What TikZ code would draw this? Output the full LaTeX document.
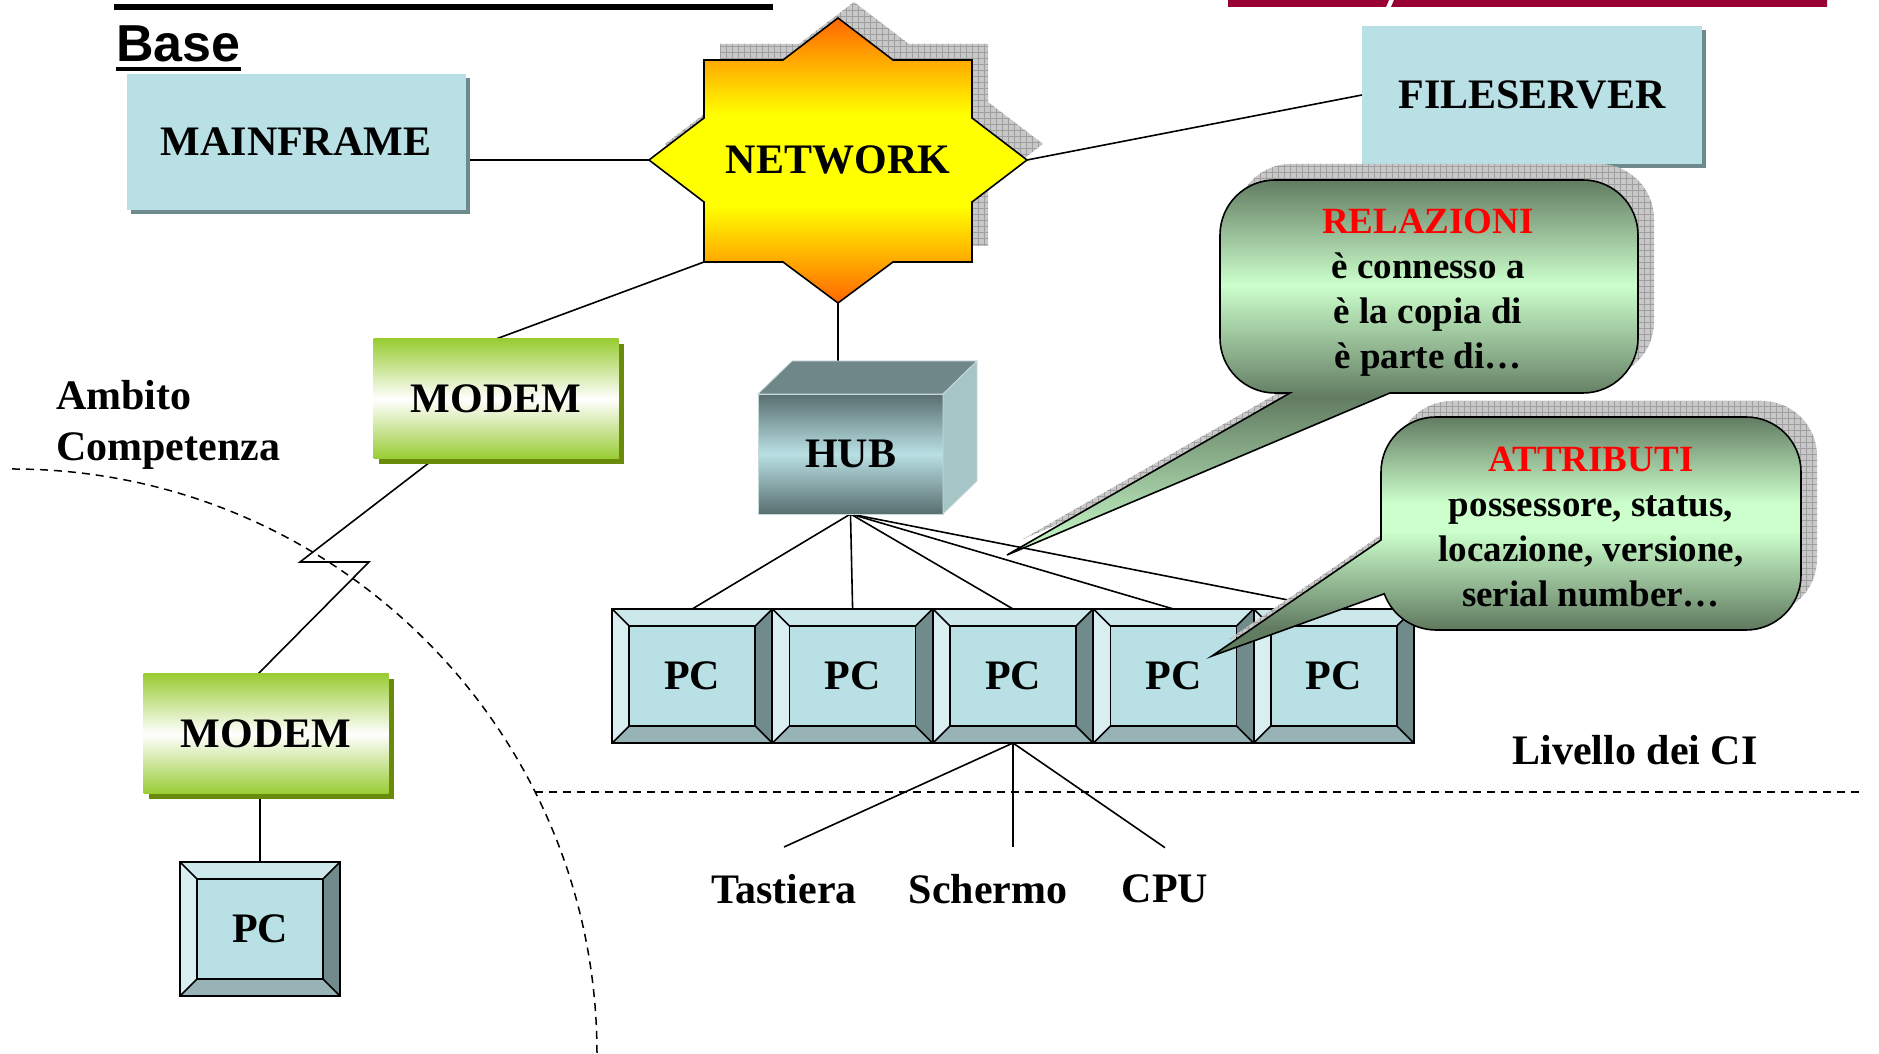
\documentclass[tikz,border=0pt]{standalone}
\usepackage{fontspec}
\setmainfont{Liberation Serif}
\newfontfamily\sansbold{Liberation Sans}
\usepackage{xcolor}
\usepackage{tikz}
\usetikzlibrary{backgrounds,shadows,patterns.meta}

\definecolor{boxblue}{HTML}{B9E0E4}
\definecolor{boxshade}{HTML}{6F8A8C}
\definecolor{pctop}{HTML}{CCE8EB}
\definecolor{pcleft}{HTML}{D8EEF0}
\definecolor{pcright}{HTML}{718B8D}
\definecolor{pcbottom}{HTML}{97B3B6}
\definecolor{hubdark}{HTML}{586E6F}
\definecolor{hubtop}{HTML}{6F8788}
\definecolor{hubside}{HTML}{A6C5C7}
\definecolor{hubedge}{HTML}{C9D9DA}
\definecolor{modemgreen}{HTML}{99CC33}
\definecolor{modemshade}{HTML}{6A8A0C}
\definecolor{netorange}{HTML}{FF6600}
\definecolor{netyellow}{HTML}{FFFF00}
\definecolor{bubdark}{HTML}{627C62}
\definecolor{bublight}{HTML}{CCFFCC}
\definecolor{shadowgray}{HTML}{C8C8C8}
\definecolor{hdrred}{HTML}{990033}
\definecolor{notered}{HTML}{FF0000}

\newcommand{\labelfont}{\fontsize{42}{51}\selectfont\bfseries}
\newcommand{\notefont}{\fontsize{37}{45}\selectfont\bfseries}
\newcommand{\basetitlefont}{\sansbold\fontsize{52}{60}\selectfont\bfseries}

\pgfdeclareverticalshading{netshade}{100bp}{color(0bp)=(netorange); color(25bp)=(netorange); color(42bp)=(netyellow); color(58bp)=(netyellow); color(75bp)=(netorange); color(100bp)=(netorange)}
\pgfdeclareverticalshading{relshade}{100bp}{color(0bp)=(bublight); color(25bp)=(bublight); color(46bp)=(bubdark); color(61bp)=(bublight); color(75bp)=(bubdark); color(100bp)=(bubdark)}
\pgfdeclareverticalshading{attshade}{100bp}{color(0bp)=(bubdark); color(25bp)=(bubdark); color(31bp)=(bubdark); color(51bp)=(bublight); color(57bp)=(bublight); color(75bp)=(bubdark); color(100bp)=(bubdark)}

% outlines of the star and the two callouts
\newcommand{\netstar}{(838,1036) -- (893,994) -- (972,994) -- (972,936) -- (1027,894) -- (972,852) -- (972,792) -- (893,792) -- (838,751) -- (783,792) -- (704,792) -- (704,852) -- (649,894) -- (704,936) -- (704,994) -- (783,994) -- cycle}
\newcommand{\relpath}{(1290,661) -- (1007,499) -- (1390,661) -- (1583,661) arc[start angle=-90, end angle=0, radius=55] -- (1638,819) arc[start angle=0, end angle=90, radius=55] -- (1275,874) arc[start angle=90, end angle=180, radius=55] -- (1220,716) arc[start angle=180, end angle=270, radius=55] -- cycle}
\newcommand{\attpath}{(1381,514) -- (1212,398) -- (1384.3,460.2) arc[start angle=200, end angle=270, radius=55] -- (1746,424) arc[start angle=-90, end angle=0, radius=55] -- (1801,582) arc[start angle=0, end angle=90, radius=55] -- (1436,637) arc[start angle=90, end angle=180, radius=55] -- cycle}

% bevel of a PC key
\newcommand{\pcbevel}{%
  \def\pcbb{path picture bounding box}%
  \fill[pctop] (\pcbb.north west) -- (\pcbb.north east) -- ([shift={(-17pt,-17pt)}]\pcbb.north east) -- ([shift={(17pt,-17pt)}]\pcbb.north west) -- cycle;
  \fill[pcleft] (\pcbb.north west) -- ([shift={(17pt,-17pt)}]\pcbb.north west) -- ([shift={(17pt,17pt)}]\pcbb.south west) -- (\pcbb.south west) -- cycle;
  \fill[pcright] (\pcbb.north east) -- ([shift={(-17pt,-17pt)}]\pcbb.north east) -- ([shift={(-17pt,17pt)}]\pcbb.south east) -- (\pcbb.south east) -- cycle;
  \fill[pcbottom] (\pcbb.south west) -- ([shift={(17pt,17pt)}]\pcbb.south west) -- ([shift={(-17pt,17pt)}]\pcbb.south east) -- (\pcbb.south east) -- cycle;
  \draw[line width=1.6pt] ([shift={(17pt,-17pt)}]\pcbb.north west) rectangle ([shift={(-17pt,17pt)}]\pcbb.south east);
  \foreach \corner/\cshift in {north west/{17pt,-17pt}, north east/{-17pt,-17pt}, south west/{17pt,17pt}, south east/{-17pt,17pt}}
    \draw[line width=1.6pt] (\pcbb.\corner) -- ++(\cshift);
}

\tikzset{
  wire/.style={line width=1.6pt},
  limit/.style={line width=1.5pt, dash pattern=on 8pt off 6pt},
  captext/.style={font=\labelfont, text height=28pt, text depth=0pt},
  bluebox/.style={captext, fill=boxblue, inner sep=0pt, outer sep=0pt,
    drop shadow={shadow xshift=4pt, shadow yshift=-4pt, fill=boxshade, opacity=1}},
  modembox/.style={captext, top color=modemgreen, bottom color=modemgreen, middle color=white,
    minimum width=245pt, minimum height=120pt, inner sep=0pt, outer sep=0pt,
    drop shadow={shadow xshift=5pt, shadow yshift=-5pt, fill=modemshade, opacity=1}},
  pcbox/.style={captext, draw, line width=1.6pt, fill=boxblue, minimum width=160pt, minimum height=134pt,
    inner sep=0pt, outer sep=0pt, path picture={\pcbevel}},
  hubface/.style={captext, top color=hubdark, bottom color=hubdark, middle color=boxblue, draw=hubedge,
    line width=0.8pt, minimum width=185pt, minimum height=120pt, inner sep=0pt, outer sep=0pt},
  shadowhatch/.style={fill=shadowgray, postaction={pattern={Hatch[angle=0, distance=6pt, line width=0.6pt]}, pattern color=gray!75}},
  notetext/.style={font=\notefont, align=center, inner sep=0pt},
  partlabel/.style={font=\labelfont, inner xsep=0pt, inner ysep=27pt},
}

\begin{document}
\begin{tikzpicture}[x=1pt, y=1pt]
\useasboundingbox (0,0) rectangle (1879,1054);

% header remains
\fill (114,1044) rectangle (773,1050);
\fill[hdrred] (1228,1047) -- (1228,1054) -- (1389,1054) -- (1386,1047) -- cycle;
\fill[hdrred] (1391,1047) -- (1394,1054) -- (1827,1054) -- (1827,1047) -- cycle;
\node[anchor=base west, inner sep=0pt, font=\basetitlefont] (base) at (116,992) {Base};
\draw[line width=4pt] ([yshift=-7pt]base.base west) -- ([yshift=-7pt]base.base east);

% network
\fill[shadowhatch, shift={(16,16)}] \netstar;
\shadedraw[shading=netshade, line width=1.6pt] \netstar;
\node[captext] (network) at (838,894) {NETWORK};
\coordinate (netW) at (649,894);
\coordinate (netE) at (1027,894);
\coordinate (netS) at (838,751);
\coordinate (netSW) at (704,792);

\node[bluebox, minimum width=339pt, minimum height=136pt] (mainframe) at (296,912) {MAINFRAME};
\node[bluebox, minimum width=340pt, minimum height=138pt] (fileserver) at (1532,959) {FILESERVER};
\node[modembox] (modem1) at (496,655) {MODEM};
\node[modembox] (modem2) at (266,320) {MODEM};
\coordinate (zz1) at (300,492);
\coordinate (zz2) at (369,492);

% hub
\node[hubface] (hub) at (850.5,600) {HUB};
\filldraw[fill=hubtop, draw=hubedge, line width=0.8pt] (hub.north west) -- ++(34,33) -- ++(185,0) -- (hub.north east) -- cycle;
\filldraw[fill=hubside, draw=hubedge, line width=0.8pt] (hub.north east) -- ++(34,33) -- ++(0,-120) -- (hub.south east) -- cycle;
\coordinate (hubback) at ([yshift=33pt]hub.north);

% pcs
\foreach \i in {1,...,5}
  \node[pcbox] (pc\i) at ({531.8+160.4*\i},378) {PC};
\node[pcbox] (pc0) at (260,125) {PC};

\node[partlabel] (tastiera) at (784,165) {Tastiera};
\node[partlabel] (schermo) at (988,165) {Schermo};
\node[partlabel] (cpu) at (1165,165) {CPU};
\node[font=\labelfont] (livello) at (1635,304) {Livello dei CI};
\node[font=\labelfont, anchor=north west, inner sep=0pt, align=left] (ambito) at (56,674) {Ambito\\Competenza};

% callouts
\fill[shadowhatch, shift={(16,16)}] \relpath;
\shadedraw[shading=relshade, line width=1.6pt] \relpath;
\node[notetext] (relazioni) at (1428,761) {\textcolor{notered}{RELAZIONI}\\è connesso a\\è la copia di\\è parte di…};
\fill[shadowhatch, shift={(16,16)}] \attpath;
\shadedraw[shading=attshade, line width=1.6pt] \attpath;
\node[notetext] (attributi) at (1591,527) {\textcolor{notered}{ATTRIBUTI}\\possessore, status,\\locazione, versione,\\serial number…};

\begin{scope}[on background layer]
  \fill[white] (0,0) rectangle (1879,1054);
  \draw[limit] (12,585) arc[start angle=90, end angle=0, radius=585];
  \draw[limit] (535,262) -- (1863,262);
  \draw[wire] (netW) -- (netW -| mainframe.east);
  \draw[wire] (netE) -- (fileserver.west);
  \draw[wire] (netSW) -- (modem1.north);
  \draw[wire] (netS) -- (netS |- hubback);
  \draw[wire] ([xshift=-62pt]modem1.south) -- (zz1) -- (zz2) -- ([xshift=-8pt]modem2.north);
  \draw[wire] (pc0.north) -- (pc0.north |- modem2.south);
  \foreach \i in {1,...,5}
    \draw[wire] (hub.south) -- (pc\i.north);
  \draw[wire] (pc3.south) -- (tastiera.north);
  \draw[wire] (pc3.south) -- (pc3.south |- schermo.north);
  \draw[wire] (pc3.south) -- (cpu.north);
\end{scope}
\end{tikzpicture}
\end{document}
